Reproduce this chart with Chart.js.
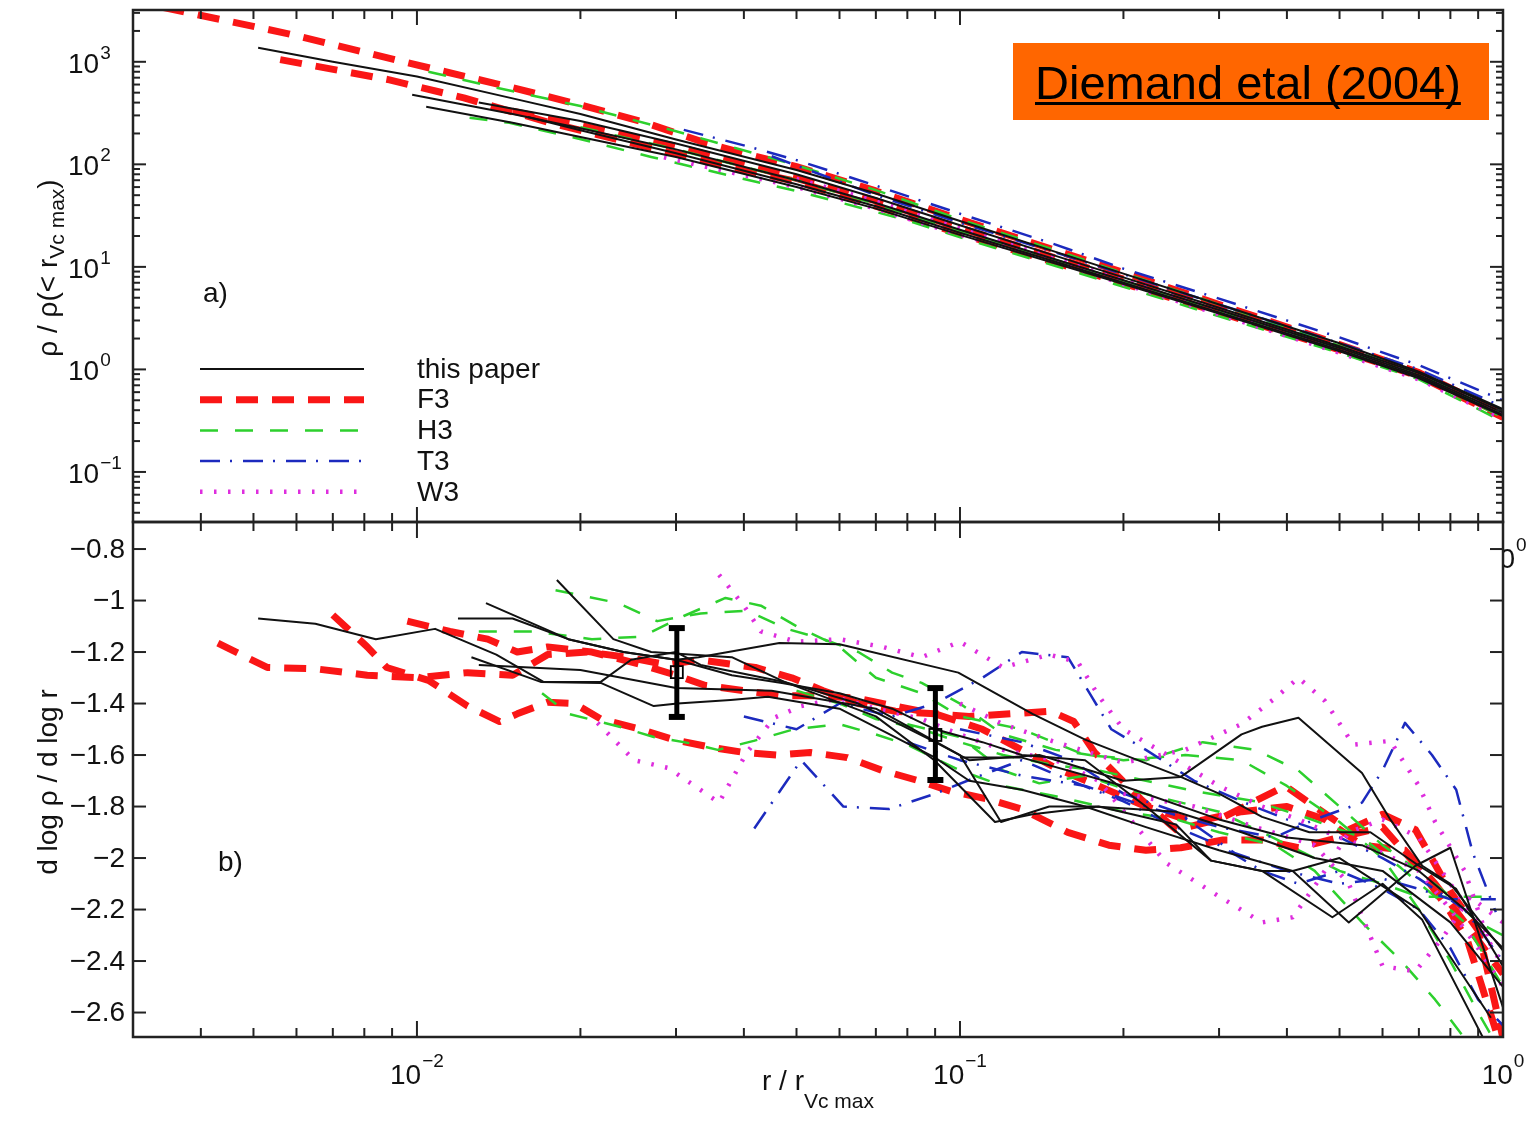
<!DOCTYPE html>
<html>
<head>
<meta charset="utf-8">
<script src="https://cdn.jsdelivr.net/npm/chart.js@4.4.1/dist/chart.umd.min.js"></script>
<style>
  html, body { margin: 0; padding: 0; background: #fff; }
  #wrap { position: relative; width: 1538px; height: 1125px; }
  canvas { position: absolute; left: 0; top: 0; }
</style>
</head>
<body>
<div id="wrap">
  <canvas id="slopeChart" width="1538" height="1125"></canvas>
  <canvas id="densityChart" width="1538" height="1125"></canvas>
</div>
<script>
// axis ranges
const X_MIN = 0.003, X_MAX = 1;
const TOP_MIN = 0.0325, TOP_MAX = 3200;
const BOT_MIN = -2.695, BOT_MAX = -0.695;

// tick labels
const xMajorTicks = [0.01, 0.1, 1];
const xTickExp = ['\u22122', '\u22121', '0'];
const topMajorTicks = [0.1, 1, 10, 100, 1000];
const topTickExp = ['\u22121', '0', '1', '2', '3'];
const botTicks = [-2.6, -2.4, -2.2, -2.0, -1.8, -1.6, -1.4, -1.2, -1.0, -0.8];
const botTickText = ['\u22122.6', '\u22122.4', '\u22122.2', '\u22122', '\u22121.8', '\u22121.6', '\u22121.4', '\u22121.2', '\u22121', '\u22120.8'];

const legendNames = ['this paper', 'F3', 'H3', 'T3', 'W3'];

// ---- panel a) : rho / rho(<r_Vcmax) vs r / r_Vcmax  ([x, y])
const topThis1 = [[0.0051,1370],[0.007,1000],[0.01,720],[0.015,440],[0.02,310],[0.03,175],[0.05,88],[0.07,52],[0.1,28],[0.15,14],[0.2,8.6],[0.3,4.3],[0.5,1.8],[0.7,0.95],[1,0.41]];
const topThis2 = [[0.0098,476],[0.015,310],[0.02,225],[0.03,140],[0.05,70],[0.07,42],[0.1,23],[0.15,11.8],[0.2,7.4],[0.3,3.8],[0.5,1.62],[0.7,0.88],[1,0.38]];
const topThis3 = [[0.0104,364],[0.015,255],[0.02,185],[0.03,118],[0.05,60],[0.07,37],[0.1,20.5],[0.15,10.8],[0.2,6.8],[0.3,3.5],[0.5,1.5],[0.7,0.82],[1,0.35]];
const topThis4 = [[0.013,400],[0.02,265],[0.03,160],[0.05,80],[0.07,47],[0.1,25.5],[0.15,12.8],[0.2,7.9],[0.3,4.0],[0.5,1.68],[0.7,0.92],[1,0.40]];
const topThis5 = [[0.016,290],[0.02,215],[0.03,128],[0.05,64],[0.07,39],[0.1,21.5],[0.15,11.2],[0.2,7.0],[0.3,3.6],[0.5,1.55],[0.7,0.85],[1,0.36]];

const topF1 = [[0.0034,3400],[0.0058,1875],[0.0069,1500],[0.0107,855],[0.015,560],[0.02,380],[0.026,260],[0.034,162],[0.04,128],[0.05,95],[0.07,55],[0.1,29],[0.15,14.5],[0.2,8.8],[0.3,4.3],[0.5,1.75],[0.7,0.93],[1,0.37]];
const topF2 = [[0.0056,1050],[0.0089,667],[0.0122,445],[0.0176,254],[0.025,160],[0.04,88],[0.05,68],[0.07,39],[0.1,21],[0.15,11],[0.2,6.9],[0.3,3.6],[0.5,1.55],[0.7,0.86],[1,0.34]];
const topF3 = [[0.015,330],[0.02,240],[0.03,150],[0.05,73],[0.07,44],[0.1,24],[0.15,12.2],[0.2,7.6],[0.3,3.9],[0.5,1.63],[0.7,0.9],[1,0.36]];

const topH1 = [[0.0105,800],[0.0122,665],[0.014,560],[0.02,370],[0.03,210],[0.05,98],[0.07,56],[0.1,29],[0.15,14.5],[0.2,8.7],[0.3,4.3],[0.5,1.7],[0.7,0.92],[1,0.36]];
const topH2 = [[0.0125,285],[0.0148,254],[0.0203,173],[0.027,118],[0.04,72],[0.05,55],[0.079,29],[0.1036,18.3],[0.15,10.2],[0.2,6.4],[0.3,3.3],[0.5,1.45],[0.7,0.8],[1,0.31]];
const topH3 = [[0.02,230],[0.03,140],[0.05,70],[0.07,41],[0.1,22.5],[0.15,11.7],[0.2,7.3],[0.3,3.75],[0.5,1.6],[0.7,0.87],[1,0.34]];

const topT1 = [[0.031,217],[0.041,148],[0.05,110],[0.07,62],[0.1,33],[0.15,16.5],[0.2,9.6],[0.3,4.9],[0.5,2.05],[0.7,1.1],[1,0.5]];
const topT2 = [[0.045,120],[0.07,50],[0.1,27],[0.15,13.8],[0.2,8.5],[0.3,4.3],[0.5,1.8],[0.7,1.0],[1,0.43]];

const topW1 = [[0.0285,117],[0.041,76],[0.05,60],[0.07,37],[0.1,20.5],[0.137,13.2],[0.2,6.8],[0.3,3.45],[0.5,1.45],[0.7,0.8],[1,0.33]];
const topW2 = [[0.05,72],[0.07,44],[0.1,24],[0.15,12.3],[0.2,7.6],[0.3,3.85],[0.5,1.6],[0.7,0.88],[1,0.37]];

// ---- panel b) : d log rho / d log r
const botThis1 = [[0.0051,-1.07],[0.0065,-1.09],[0.0084,-1.15],[0.0108,-1.11],[0.014,-1.21],[0.0171,-1.316],[0.0218,-1.316],[0.0248,-1.23],[0.03,-1.20],[0.0333,-1.25],[0.0475,-1.316],[0.065,-1.40],[0.09,-1.55],[0.104,-1.62],[0.14,-1.60],[0.2,-1.70],[0.255,-1.685],[0.3,-1.75],[0.36,-1.84],[0.44,-1.90],[0.57,-1.90],[0.70,-2.03],[0.82,-2.12],[1.0,-2.42]];
const botThis2 = [[0.0119,-1.07],[0.015,-1.07],[0.019,-1.15],[0.024,-1.20],[0.030,-1.23],[0.038,-1.29],[0.047,-1.32],[0.06,-1.36],[0.075,-1.42],[0.09,-1.50],[0.11,-1.55],[0.13,-1.60],[0.17,-1.62],[0.22,-1.80],[0.29,-2.01],[0.36,-2.05],[0.41,-2.05],[0.52,-2.25],[0.69,-2.03],[0.80,-1.96],[1.0,-2.58]];
const botThis3 = [[0.0134,-1.01],[0.019,-1.15],[0.024,-1.20],[0.030,-1.23],[0.033,-1.22],[0.0465,-1.165],[0.060,-1.17],[0.0993,-1.28],[0.136,-1.44],[0.17,-1.54],[0.255,-1.685],[0.33,-1.52],[0.36,-1.49],[0.42,-1.455],[0.55,-1.67],[0.62,-1.85],[0.71,-2.03],[0.80,-2.10],[1.0,-2.36]];
const botThis4 = [[0.0181,-0.92],[0.023,-1.15],[0.027,-1.20],[0.038,-1.22],[0.0475,-1.316],[0.07,-1.45],[0.0897,-1.62],[0.116,-1.86],[0.136,-1.83],[0.18,-1.80],[0.25,-1.87],[0.29,-2.01],[0.36,-2.05],[0.485,-2.23],[0.6,-2.10],[0.71,-2.24],[0.92,-2.70]];
const botThis5 = [[0.0126,-1.22],[0.0169,-1.316],[0.0218,-1.32],[0.0273,-1.41],[0.0302,-1.40],[0.0378,-1.386],[0.0443,-1.374],[0.06,-1.42],[0.09,-1.61],[0.104,-1.70],[0.13,-1.735],[0.17,-1.80],[0.22,-1.88],[0.3,-1.97],[0.41,-2.05],[0.5,-2.0],[0.7,-2.2],[0.95,-2.62]];
const botThis6 = [[0.013,-1.25],[0.02,-1.27],[0.03,-1.34],[0.045,-1.35],[0.07,-1.42],[0.1,-1.60],[0.119,-1.86],[0.146,-1.80],[0.177,-1.80],[0.25,-1.82],[0.33,-1.90],[0.45,-2.0],[0.6,-2.05],[0.8,-2.25],[1.0,-2.5]];
const botThis7 = [[0.1,-1.61],[0.13,-1.61],[0.2,-1.72],[0.3,-1.85],[0.4,-1.92],[0.55,-1.95],[0.7,-2.05],[0.85,-2.2],[1.0,-2.35]];

const botF1 = [[0.0043,-1.165],[0.0053,-1.26],[0.0065,-1.265],[0.0081,-1.29],[0.010,-1.30],[0.0124,-1.28],[0.015,-1.29],[0.0174,-1.21],[0.0206,-1.20],[0.0244,-1.22],[0.0289,-1.25],[0.033,-1.23],[0.042,-1.26],[0.049,-1.30],[0.056,-1.35],[0.065,-1.40],[0.076,-1.43],[0.09,-1.44],[0.104,-1.45],[0.147,-1.43],[0.162,-1.47],[0.177,-1.59],[0.215,-1.77],[0.25,-1.89],[0.30,-1.85],[0.397,-1.72],[0.45,-1.80],[0.52,-1.89],[0.60,-1.83],[0.69,-1.89],[0.80,-2.13],[0.90,-2.28],[1.0,-2.70]];
const botF2 = [[0.0070,-1.056],[0.0081,-1.18],[0.0088,-1.26],[0.0105,-1.31],[0.0124,-1.41],[0.0142,-1.47],[0.0153,-1.44],[0.0174,-1.395],[0.0195,-1.40],[0.0218,-1.46],[0.0258,-1.50],[0.0297,-1.54],[0.0348,-1.57],[0.040,-1.59],[0.046,-1.60],[0.053,-1.59],[0.062,-1.61],[0.072,-1.66],[0.084,-1.70],[0.096,-1.74],[0.112,-1.77],[0.13,-1.81],[0.158,-1.90],[0.188,-1.95],[0.22,-1.97],[0.255,-1.96],[0.305,-1.93],[0.36,-1.93],[0.42,-1.96],[0.50,-1.92],[0.60,-1.88],[0.70,-2.04],[0.80,-2.21],[0.86,-2.32],[0.97,-2.67]];
const botF3 = [[0.0096,-1.08],[0.0115,-1.12],[0.0135,-1.15],[0.0153,-1.20],[0.0174,-1.18],[0.021,-1.20],[0.026,-1.25],[0.030,-1.29],[0.034,-1.33],[0.040,-1.35],[0.047,-1.37],[0.055,-1.37],[0.065,-1.38],[0.076,-1.41],[0.09,-1.44],[0.11,-1.50],[0.13,-1.58],[0.15,-1.65],[0.18,-1.72],[0.22,-1.80],[0.27,-1.86],[0.33,-1.82],[0.40,-1.80],[0.47,-1.85],[0.55,-1.95],[0.66,-1.97],[0.75,-2.10],[0.85,-2.25],[1.0,-2.45]];

const botH1 = [[0.018,-0.96],[0.0235,-1.01],[0.0277,-1.08],[0.0333,-1.05],[0.0406,-1.04],[0.048,-1.11],[0.056,-1.15],[0.065,-1.20],[0.075,-1.28],[0.085,-1.32],[0.1,-1.40],[0.12,-1.52],[0.15,-1.58],[0.2,-1.62],[0.26,-1.60],[0.33,-1.62],[0.4,-1.72],[0.5,-1.86],[0.6,-2.0],[0.7,-2.2],[0.8,-2.4],[0.9,-2.6],[0.97,-2.72]];
const botH2 = [[0.013,-1.12],[0.0164,-1.12],[0.021,-1.15],[0.026,-1.14],[0.031,-1.06],[0.037,-0.99],[0.043,-1.02],[0.05,-1.10],[0.06,-1.18],[0.07,-1.30],[0.085,-1.36],[0.1,-1.45],[0.13,-1.50],[0.17,-1.60],[0.22,-1.62],[0.28,-1.55],[0.35,-1.58],[0.42,-1.66],[0.5,-1.80],[0.6,-1.95],[0.7,-2.05],[0.8,-2.15],[0.9,-2.25],[1.0,-2.30]];
const botH3 = [[0.017,-1.36],[0.019,-1.44],[0.0236,-1.49],[0.0273,-1.53],[0.032,-1.555],[0.0358,-1.58],[0.0417,-1.545],[0.0494,-1.50],[0.06,-1.48],[0.07,-1.52],[0.08,-1.56],[0.1,-1.66],[0.12,-1.72],[0.15,-1.76],[0.2,-1.82],[0.25,-1.85],[0.3,-1.90],[0.38,-1.95],[0.45,-2.05],[0.55,-2.25],[0.65,-2.4],[0.75,-2.55],[0.85,-2.7]];
const botH4 = [[0.05,-1.35],[0.06,-1.40],[0.07,-1.46],[0.085,-1.50],[0.1,-1.55],[0.12,-1.60],[0.15,-1.64],[0.18,-1.66],[0.22,-1.70],[0.27,-1.74],[0.35,-1.78],[0.43,-1.84],[0.55,-1.92],[0.65,-2.04],[0.75,-2.15],[0.85,-2.25],[1.0,-2.50]];
const botH5 = [[0.08,-1.48],[0.1,-1.53],[0.12,-1.66],[0.14,-1.71],[0.17,-1.68],[0.2,-1.73],[0.25,-1.78],[0.3,-1.82],[0.36,-1.90],[0.43,-1.98],[0.5,-2.05],[0.6,-2.10],[0.7,-2.15],[0.8,-2.15],[0.9,-2.15],[0.97,-2.15]];

const botT1 = [[0.0418,-1.885],[0.051,-1.62],[0.061,-1.80],[0.074,-1.81],[0.09,-1.75],[0.109,-1.68],[0.13,-1.62],[0.16,-1.70],[0.2,-1.78],[0.25,-1.88],[0.3,-1.95],[0.36,-2.05],[0.42,-2.10],[0.5,-2.05],[0.6,-2.12],[0.7,-2.2],[0.8,-2.35],[0.9,-2.55],[1.0,-2.65]];
const botT2 = [[0.04,-1.45],[0.05,-1.50],[0.06,-1.40],[0.075,-1.45],[0.09,-1.40],[0.11,-1.30],[0.13,-1.20],[0.158,-1.22],[0.175,-1.375],[0.19,-1.50],[0.22,-1.58],[0.27,-1.70],[0.33,-1.78],[0.4,-1.85],[0.5,-1.92],[0.6,-2.0],[0.7,-2.08],[0.85,-2.2],[1.0,-2.4]];
const botT3 = [[0.08,-1.55],[0.1,-1.62],[0.13,-1.68],[0.17,-1.72],[0.22,-1.80],[0.3,-1.88],[0.38,-1.92],[0.45,-1.85],[0.55,-1.785],[0.6,-1.66],[0.66,-1.475],[0.74,-1.60],[0.82,-1.735],[0.88,-1.98],[0.97,-2.21]];
const botT4 = [[0.1,-1.50],[0.13,-1.55],[0.16,-1.62],[0.2,-1.75],[0.25,-1.82],[0.32,-1.98],[0.4,-2.05],[0.5,-2.10],[0.6,-2.08],[0.7,-2.12],[0.8,-2.16],[0.97,-2.16]];

const botW1 = [[0.036,-0.90],[0.04,-1.02],[0.043,-1.12],[0.05,-1.16],[0.06,-1.15],[0.072,-1.18],[0.085,-1.22],[0.1,-1.16],[0.12,-1.26],[0.146,-1.21],[0.165,-1.24],[0.18,-1.37],[0.2,-1.50],[0.25,-1.62],[0.3,-1.72],[0.36,-1.80],[0.42,-1.85],[0.5,-1.92],[0.6,-1.98],[0.7,-2.05],[0.8,-2.2],[0.9,-2.35],[1.0,-2.5]];
const botW2 = [[0.0215,-1.475],[0.0251,-1.62],[0.029,-1.65],[0.033,-1.73],[0.036,-1.785],[0.0405,-1.59],[0.0455,-1.455],[0.051,-1.41],[0.06,-1.38],[0.07,-1.42],[0.085,-1.46],[0.1,-1.52],[0.12,-1.58],[0.15,-1.62],[0.18,-1.70],[0.24,-2.02],[0.29,-2.13],[0.36,-2.25],[0.41,-2.23],[0.46,-2.08],[0.52,-1.90],[0.6,-1.85],[0.7,-1.92],[0.8,-2.1],[0.9,-2.25],[1.0,-2.42]];
const botW3 = [[0.1,-1.40],[0.12,-1.48],[0.15,-1.55],[0.2,-1.63],[0.26,-1.58],[0.33,-1.48],[0.38,-1.38],[0.42,-1.30],[0.47,-1.39],[0.53,-1.56],[0.62,-1.545],[0.7,-1.72],[0.75,-1.86],[0.85,-2.05],[0.95,-2.35]];
const botW4 = [[0.2,-1.75],[0.27,-1.80],[0.35,-1.88],[0.45,-1.95],[0.52,-2.10],[0.6,-2.42],[0.69,-2.44],[0.78,-2.30],[0.87,-2.15],[1.0,-2.25]];

// error bars in panel b)
const errX = [0.0301, 0.0901];
const errLow = [-1.452, -1.697];
const errHigh = [-1.107, -1.340];
const errMid = [-1.278, -1.522];

const FONT = '"Liberation Sans", Arial, Helvetica, sans-serif';
const AXIS = '#222';

const STYLE = {
  thisPaper: { color: '#111111', width: 2, dash: [] },
  F3: { color: 'rgb(250,22,22)', width: 7, dash: [22, 14] },
  H3: { color: 'rgb(45,208,45)', width: 2.5, dash: [18, 17] },
  T3: { color: 'rgb(28,42,190)', width: 2.5, dash: [20, 10, 2, 11] },
  W3: { color: 'rgb(222,45,222)', width: 4.5, dash: [2.5, 11.5] },
};
const legendStyles = ['thisPaper', 'F3', 'H3', 'T3', 'W3'];

function makeSet(points, key) {
  const s = STYLE[key];
  return {
    data: points.map(p => ({ x: p[0], y: p[1] })),
    borderColor: s.color,
    borderWidth: s.width,
    borderDash: s.dash,
    borderCapStyle: 'butt',
    borderJoinStyle: 'round',
    pointRadius: 0,
    tension: 0,
    fill: false,
    clip: 0,
  };
}

// first dataset is drawn on top
const topSets = [
  ...[topThis1, topThis2, topThis3, topThis4, topThis5].map(d => makeSet(d, 'thisPaper')),
  ...[topW1, topW2].map(d => makeSet(d, 'W3')),
  ...[topT1, topT2].map(d => makeSet(d, 'T3')),
  ...[topH1, topH2, topH3].map(d => makeSet(d, 'H3')),
  ...[topF1, topF2, topF3].map(d => makeSet(d, 'F3')),
];
const botSets = [
  ...[botThis1, botThis2, botThis3, botThis4, botThis5, botThis6, botThis7].map(d => makeSet(d, 'thisPaper')),
  ...[botW1, botW2, botW3, botW4].map(d => makeSet(d, 'W3')),
  ...[botT1, botT2, botT3, botT4].map(d => makeSet(d, 'T3')),
  ...[botH1, botH2, botH3, botH4, botH5].map(d => makeSet(d, 'H3')),
  ...[botF1, botF2, botF3].map(d => makeSet(d, 'F3')),
];

// log ticks: [value, isMajor]
function logTicks(min, max) {
  const out = [];
  for (let k = Math.floor(Math.log10(min)); k <= Math.ceil(Math.log10(max)); k++) {
    for (let m = 1; m <= 9; m++) {
      const v = m * Math.pow(10, k);
      if (v >= min && v <= max) out.push([v, m === 1]);
    }
  }
  return out;
}

function seg(ctx, x1, y1, x2, y2) {
  ctx.beginPath(); ctx.moveTo(x1, y1); ctx.lineTo(x2, y2); ctx.stroke();
}

// "10" with superscript exponent, y = baseline
function drawPow(ctx, x, y, exp, align, raise) {
  ctx.font = '28px ' + FONT;
  const wb = ctx.measureText('10').width;
  ctx.font = '19px ' + FONT;
  const we = ctx.measureText(exp).width;
  const total = wb + 1 + we;
  let x0 = x;
  if (align === 'center') x0 = x - total / 2;
  if (align === 'right') x0 = x - total;
  ctx.textAlign = 'left';
  ctx.textBaseline = 'alphabetic';
  ctx.font = '28px ' + FONT;
  ctx.fillText('10', x0, y);
  ctx.font = '19px ' + FONT;
  ctx.fillText(exp, x0 + wb + 1, y - raise);
  return wb;
}

// text with subscript part, drawn from x along baseline
function drawSubText(ctx, parts, x, y) {
  let cx = x;
  parts.forEach(([txt, size, dy]) => {
    ctx.font = size + 'px ' + FONT;
    ctx.fillText(txt, cx, y + dy);
    cx += ctx.measureText(txt).width;
  });
  return cx - x;
}
function measureParts(ctx, parts) {
  let w = 0;
  parts.forEach(([txt, size]) => { ctx.font = size + 'px ' + FONT; w += ctx.measureText(txt).width; });
  return w;
}

function drawXTicks(ctx, a, x, lenMajor, lenMinor) {
  logTicks(X_MIN, X_MAX).forEach(([v, major]) => {
    const px = x.getPixelForValue(v);
    if (px < a.left + 3 || px > a.right - 3) return;
    const len = major ? lenMajor : lenMinor;
    seg(ctx, px, a.top, px, a.top + len);
    seg(ctx, px, a.bottom, px, a.bottom - len);
  });
}

const densityDeco = {
  id: 'densityDeco',
  afterDatasetsDraw(chart) {
    const { ctx, chartArea: a, scales: { x, y } } = chart;
    ctx.save();
    ctx.strokeStyle = AXIS;
    ctx.lineWidth = 2;
    drawXTicks(ctx, a, x, 15, 9);
    logTicks(TOP_MIN, TOP_MAX).forEach(([v, major]) => {
      const py = y.getPixelForValue(v);
      const len = major ? 13 : 7;
      seg(ctx, a.left, py, a.left + len, py);
      seg(ctx, a.right, py, a.right - len, py);
    });
    ctx.lineWidth = 2.5;
    ctx.strokeRect(a.left, a.top, a.right - a.left, a.bottom - a.top);
    ctx.restore();
  },
  afterDraw(chart) {
    const { ctx, scales: { y } } = chart;
    ctx.save();
    ctx.fillStyle = '#111';
    // y tick labels
    topMajorTicks.forEach((v, i) => {
      drawPow(ctx, 68, y.getPixelForValue(v) + 11, topTickExp[i], 'left', 14);
    });
    // y title
    ctx.save();
    ctx.translate(57, 268);
    ctx.rotate(-Math.PI / 2);
    const tParts = [['\u03c1 / \u03c1(< r', 28, 0], ['Vc max', 21, 7], [')', 28, 0]];
    drawSubText(ctx, tParts, -measureParts(ctx, tParts) / 2, 0);
    ctx.restore();
    // panel label
    ctx.font = '28px ' + FONT;
    ctx.textBaseline = 'alphabetic';
    ctx.fillText('a)', 203, 302);
    // legend
    legendNames.forEach((name, i) => {
      const ly = 369 + i * 30.7;
      const s = STYLE[legendStyles[i]];
      ctx.save();
      ctx.strokeStyle = s.color;
      ctx.lineWidth = s.width;
      ctx.setLineDash(s.dash);
      ctx.lineCap = 'butt';
      seg(ctx, 200, ly, 364, ly);
      ctx.restore();
      ctx.font = '28px ' + FONT;
      ctx.textBaseline = 'middle';
      ctx.fillStyle = '#111';
      ctx.fillText(name, 417, ly + 1);
    });
    // orange label box
    ctx.fillStyle = '#ff6600';
    ctx.fillRect(1013, 43, 476, 77);
    ctx.fillStyle = '#000';
    ctx.font = '47px ' + FONT;
    ctx.textBaseline = 'alphabetic';
    const lbl = 'Diemand etal (2004)';
    const lw = ctx.measureText(lbl).width;
    ctx.fillText(lbl, 1035, 99);
    ctx.fillRect(1035, 102, lw, 3);
    ctx.restore();
  }
};

const slopeDeco = {
  id: 'slopeDeco',
  afterDatasetsDraw(chart) {
    const { ctx, chartArea: a, scales: { x, y } } = chart;
    ctx.save();
    // error bars
    ctx.strokeStyle = '#000';
    errX.forEach((v, i) => {
      const px = x.getPixelForValue(v);
      const pLo = y.getPixelForValue(errLow[i]);
      const pHi = y.getPixelForValue(errHigh[i]);
      const pMid = y.getPixelForValue(errMid[i]);
      ctx.lineWidth = 5;
      seg(ctx, px, pLo, px, pHi);
      ctx.lineWidth = 6;
      seg(ctx, px - 8, pLo, px + 8, pLo);
      seg(ctx, px - 8, pHi, px + 8, pHi);
      ctx.lineWidth = 1.8;
      ctx.strokeRect(px - 6, pMid - 6, 12, 12);
    });
    ctx.strokeStyle = AXIS;
    ctx.lineWidth = 2;
    drawXTicks(ctx, a, x, 16, 9);
    botTicks.forEach(v => {
      const py = y.getPixelForValue(v);
      seg(ctx, a.left, py, a.left + 13, py);
      seg(ctx, a.right, py, a.right - 13, py);
    });
    ctx.lineWidth = 2.5;
    ctx.strokeRect(a.left, a.top, a.right - a.left, a.bottom - a.top);
    ctx.restore();
  },
  afterDraw(chart) {
    const { ctx, chartArea: a, scales: { x, y } } = chart;
    ctx.save();
    ctx.fillStyle = '#111';
    // y tick labels
    ctx.font = '28px ' + FONT;
    ctx.textAlign = 'right';
    ctx.textBaseline = 'middle';
    botTicks.forEach((v, i) => {
      ctx.fillText(botTickText[i], 125, y.getPixelForValue(v) + 1);
    });
    // x tick labels
    xMajorTicks.forEach((v, i) => {
      drawPow(ctx, x.getPixelForValue(v), 1084, xTickExp[i], 'center', 17);
    });
    // x title
    ctx.textAlign = 'left';
    ctx.textBaseline = 'alphabetic';
    const xParts = [['r / r', 28, 0], ['Vc max', 21, 18]];
    drawSubText(ctx, xParts, 818 - measureParts(ctx, xParts) / 2, 1090);
    // y title
    ctx.save();
    ctx.translate(57, 782);
    ctx.rotate(-Math.PI / 2);
    const yParts = [['d log \u03c1 / d log r', 28, 0]];
    drawSubText(ctx, yParts, -measureParts(ctx, yParts) / 2, 0);
    ctx.restore();
    // panel label
    ctx.font = '28px ' + FONT;
    ctx.fillText('b)', 218, 871);
    // leftover of the upper panel's 10^0 label
    ctx.save();
    ctx.beginPath();
    ctx.rect(a.right + 1, a.top + 8, 40, 50);
    ctx.clip();
    ctx.font = '28px ' + FONT;
    const wb = ctx.measureText('10').width;
    drawPow(ctx, 1515 - wb, 568, '0', 'left', 17);
    ctx.restore();
    ctx.restore();
  }
};

const common = {
  responsive: false,
  animation: false,
  events: [],
  plugins: { legend: { display: false }, tooltip: { enabled: false } },
};

new Chart(document.getElementById('slopeChart'), {
  type: 'line',
  data: { datasets: botSets },
  options: {
    ...common,
    layout: { padding: { top: 522, right: 35, bottom: 0, left: 0 } },
    scales: {
      x: {
        type: 'logarithmic', min: X_MIN, max: X_MAX,
        grid: { display: false }, border: { display: false }, ticks: { display: false },
        afterFit(s) { s.height = 88; }
      },
      y: {
        type: 'linear', min: BOT_MIN, max: BOT_MAX,
        grid: { display: false }, border: { display: false }, ticks: { display: false },
        afterFit(s) { s.width = 133; }
      }
    }
  },
  plugins: [slopeDeco]
});

new Chart(document.getElementById('densityChart'), {
  type: 'line',
  data: { datasets: topSets },
  options: {
    ...common,
    layout: { padding: { top: 10, right: 35, bottom: 603, left: 0 } },
    scales: {
      x: { type: 'logarithmic', min: X_MIN, max: X_MAX, display: false },
      y: {
        type: 'logarithmic', min: TOP_MIN, max: TOP_MAX,
        grid: { display: false }, border: { display: false }, ticks: { display: false },
        afterFit(s) { s.width = 133; }
      }
    }
  },
  plugins: [densityDeco]
});
</script>
</body>
</html>
